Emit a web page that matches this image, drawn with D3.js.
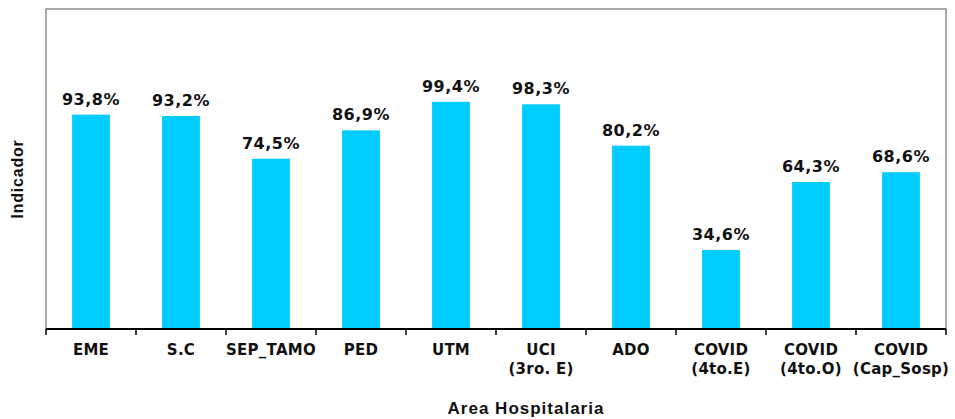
<!DOCTYPE html>
<html>
<head>
<meta charset="utf-8">
<script src="https://cdn.jsdelivr.net/npm/d3@7"></script>
<style>
  html, body { margin: 0; padding: 0; background: #fff; }
  svg { display: block; }
</style>
</head>
<body>
<svg id="chart" width="955" height="419"></svg>
<script>
// Areas (two-line names split with "\n") and indicator values in percent
const categories = ["EME", "S.C", "SEP_TAMO", "PED", "UTM", "UCI\n(3ro. E)", "ADO", "COVID\n(4to.E)", "COVID\n(4to.O)", "COVID\n(Cap_Sosp)"];
const values = [93.8, 93.2, 74.5, 86.9, 99.4, 98.3, 80.2, 34.6, 64.3, 68.6];
const yDomain = [0, 140];

const svg = d3.select("#chart");
const plot = { left: 46, right: 946, top: 9, bottom: 329 };

const x = d3.scaleBand()
  .domain(categories)
  .range([plot.left, plot.right])
  .paddingInner(0.58)
  .paddingOuter(0.29);

const y = d3.scaleLinear().domain(yDomain).range([plot.bottom, plot.top]);

// Plot frame (left, top, right)
svg.append("path")
  .attr("d", `M${plot.left},${plot.bottom} V${plot.top} H${plot.right} V${plot.bottom}`)
  .attr("fill", "none")
  .attr("stroke", "#8c8c8c")
  .attr("stroke-width", 1.5);

// Bars
svg.append("g").selectAll("rect")
  .data(values)
  .join("rect")
  .attr("x", (d, i) => x(categories[i]))
  .attr("y", d => y(d))
  .attr("width", x.bandwidth())
  .attr("height", d => y(0) - y(d))
  .attr("fill", "#00CCFF");

// Value labels
const fmt = v => v.toFixed(1).replace(".", ",") + "%";
svg.append("g").selectAll("text")
  .data(values)
  .join("text")
  .attr("x", (d, i) => x(categories[i]) + x.bandwidth() / 2)
  .attr("y", d => y(d) - 10)
  .attr("text-anchor", "middle")
  .attr("font-family", "DejaVu Sans, Verdana, sans-serif")
  .attr("font-weight", "bold")
  .attr("font-size", "16px")
  .attr("letter-spacing", "0.5px")
  .attr("fill", "#111")
  .text(d => fmt(d));

// Category axis: ticks sit on the boundaries between categories
const step = x.step();
const boundaries = d3.range(categories.length + 1).map(i => plot.left + i * step);
const axis = svg.append("g");
axis.append("line")
  .attr("x1", plot.left).attr("x2", plot.right)
  .attr("y1", plot.bottom).attr("y2", plot.bottom)
  .attr("stroke", "#000").attr("stroke-width", 2);
axis.selectAll("line.tick")
  .data(boundaries)
  .join("line")
  .attr("class", "tick")
  .attr("x1", d => d).attr("x2", d => d)
  .attr("y1", plot.bottom).attr("y2", plot.bottom + 6)
  .attr("stroke", "#000").attr("stroke-width", 1.5);

const labels = axis.selectAll("text.cat")
  .data(categories)
  .join("text")
  .attr("class", "cat")
  .attr("text-anchor", "middle")
  .attr("font-family", "DejaVu Sans, Verdana, sans-serif")
  .attr("font-weight", "bold")
  .attr("font-size", "15px")
  .attr("letter-spacing", "0.25px")
  .attr("fill", "#111");
labels.each(function(d) {
  const cx = x(d) + x.bandwidth() / 2;
  d.split("\n").forEach((line, k) => {
    d3.select(this).append("tspan")
      .attr("x", cx)
      .attr("y", 355 + k * 19)
      .text(line);
  });
});

// Axis titles
svg.append("text")
  .attr("x", 526).attr("y", 414)
  .attr("text-anchor", "middle")
  .attr("font-family", "Liberation Sans, Arial, sans-serif")
  .attr("font-weight", "bold")
  .attr("font-size", "17px")
  .attr("letter-spacing", "1px")
  .attr("fill", "#111")
  .text("Area Hospitalaria");

svg.append("text")
  .attr("transform", "translate(23,179) rotate(-90)")
  .attr("text-anchor", "middle")
  .attr("font-family", "Liberation Sans, Arial, sans-serif")
  .attr("font-weight", "bold")
  .attr("font-size", "16px")
  .attr("letter-spacing", "0.8px")
  .attr("fill", "#111")
  .text("Indicador");
</script>
</body>
</html>
